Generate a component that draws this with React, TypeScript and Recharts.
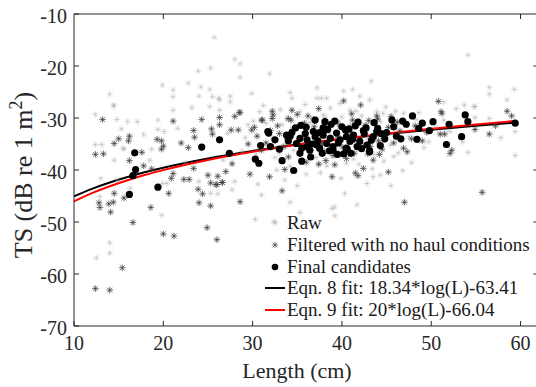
import { ComposedChart, Scatter, Line, XAxis, YAxis, Legend } from "recharts";

type Pt = [number, number];

const RAW: Pt[] = [
  [25.7, -14.5], [28.0, -18.7], [28.6, -19.6], [28.6, -22.2], [23.9, -21.0], [25.3, -20.4], [31.9, -21.5],
  [14.0, -25.4], [14.4, -27.7], [19.9, -23.7], [22.8, -23.3], [25.2, -24.5], [12.4, -29.3], [21.1, -24.6],
  [21.1, -25.9], [21.1, -28.5], [24.2, -24.0], [24.0, -25.8], [25.2, -27.8], [25.5, -25.9], [26.2, -26.2],
  [26.3, -28.5], [14.5, -27.5], [14.8, -30.3], [15.3, -32.1], [14.5, -38.1], [15.5, -35.8], [19.4, -30.4],
  [19.4, -32.2], [20.1, -32.6], [13.1, -35.1], [12.4, -35.1], [15.6, -36.0], [18.7, -36.0], [18.5, -38.1],
  [13.0, -41.6], [14.8, -41.9], [16.0, -30.7], [17.1, -30.7],
  [54.1, -17.9], [56.5, -24.1], [56.5, -25.4], [59.3, -24.5], [58.5, -26.5], [43.3, -22.9], [37.2, -24.2],
  [40.2, -24.8], [41.2, -24.5], [42.0, -25.8], [59.4, -32.6], [59.4, -37.2], [54.8, -27.8], [54.1, -36.6],
  [43.4, -39.8], [44.3, -41.0],
  [12.5, -56.9], [14.0, -54.0], [14.0, -56.0], [19.8, -48.7], [26.1, -44.6], [30.3, -49.5], [32.4, -49.9],
  [34.2, -46.2], [40.3, -44.5], [41.7, -46.7], [39.2, -47.1], [35.3, -48.2], [30.6, -42.7], [27.7, -43.8],
  [12.9, -45.1], [16.3, -43.5], [19.9, -42.6], [20.4, -42.6], [24.0, -42.2], [25.3, -44.5],
  [29.9, -25.3], [27.5, -25.8], [27.5, -26.9], [34.2, -25.1], [34.4, -26.2], [37.2, -26.2], [37.7, -26.2],
  [38.3, -26.2], [43.1, -26.5], [40.9, -28.5], [38.7, -28.1], [35.3, -28.8], [30.8, -28.8], [26.3, -26.5],
  [29.5, -31.3], [33.3, -31.3],
  [43.9, -28.8], [44.6, -29.1], [46.0, -28.7], [46.9, -29.1], [48.6, -29.0], [51.4, -26.9], [51.4, -30.4],
  [53.7, -27.5], [54.9, -27.8], [54.9, -29.9], [56.5, -30.1],
  [49.7, -34.6], [52.1, -32.6], [53.5, -34.6], [45.8, -37.4], [45.4, -35.2],
  [28.0, -42.2], [33.6, -41.9], [37.5, -38.7], [38.3, -39.2], [40.5, -38.7], [43.5, -41.3], [42.8, -42.6],
  [38.9, -47.4], [39.2, -48.8], [31.0, -44.8], [26.7, -38.1], [32.7, -40.0],
  [31.5, -31.0], [32.2, -33.8], [33.8, -30.2], [34.6, -36.2], [35.7, -33.2], [36.4, -30.9], [37.1, -37.6],
  [37.9, -29.4], [38.6, -33.1], [39.3, -35.9], [40.0, -29.8], [40.7, -34.0], [41.3, -37.9], [42.2, -29.6],
  [42.9, -33.9], [43.6, -37.0], [44.3, -30.7], [45.0, -33.4], [46.3, -36.7], [47.5, -33.6], [48.3, -30.3],
  [49.2, -35.7], [50.5, -31.8], [29.2, -33.8], [30.1, -30.6], [28.8, -36.4], [27.2, -33.0], [36.0, -40.8],
  [39.9, -41.6], [35.0, -43.0], [22.4, -38.6], [21.6, -32.0], [17.8, -33.2], [23.2, -28.0], [52.8, -28.2],
  [57.8, -33.8], [47.8, -38.6], [45.5, -43.0], [33.0, -36.8], [41.0, -31.2], [36.8, -34.8],
  [31.2, -27.6], [33.1, -28.4], [35.9, -27.4], [38.1, -29.9], [39.8, -27.2], [41.6, -28.7], [44.9, -27.9],
  [30.4, -36.9], [32.5, -37.6], [34.2, -39.3], [37.6, -40.5], [41.9, -38.9], [44.7, -38.3], [46.8, -40.1],
];

const FILTERED: Pt[] = [
  [12.4, -62.8], [14.0, -63.1], [15.4, -58.8], [16.6, -50.1], [20.0, -52.3], [21.2, -52.7], [24.9, -51.1],
  [26.0, -53.4], [18.6, -47.2], [12.8, -46.3], [12.9, -47.2], [13.9, -46.5], [14.1, -48.1], [14.4, -46.2],
  [14.5, -44.5], [15.6, -45.4], [20.6, -44.5], [24.0, -46.3], [25.3, -46.9], [24.4, -44.6], [25.3, -42.5],
  [25.9, -42.8], [26.6, -42.4], [23.9, -43.7],
  [13.2, -30.3], [12.4, -37.0], [13.3, -36.9], [14.5, -34.9], [15.0, -34.0], [16.1, -34.4], [16.2, -33.5],
  [16.2, -38.2], [17.6, -36.6], [17.8, -39.2], [18.7, -39.8], [19.3, -34.1], [19.8, -34.4], [20.0, -35.4],
  [19.8, -36.0], [21.1, -30.6], [22.0, -34.8], [22.8, -35.7], [23.4, -32.4], [23.5, -33.7], [24.3, -30.3],
  [25.4, -32.1], [25.5, -33.1], [26.3, -29.9], [26.3, -31.3], [21.1, -40.7], [20.9, -41.6], [22.3, -41.8],
  [22.9, -41.8], [25.0, -41.0], [26.1, -41.2], [26.0, -42.8], [23.4, -39.7],
  [28.0, -29.7], [28.6, -28.9], [31.0, -30.4], [32.2, -30.1], [32.3, -29.4], [34.0, -30.1],
  [40.2, -26.7], [42.1, -27.5], [37.4, -28.2], [34.4, -28.5], [32.2, -28.7], [28.5, -29.0], [31.1, -30.4],
  [34.3, -30.4], [36.2, -29.6], [41.2, -30.4], [43.0, -30.5], [43.9, -29.6], [27.6, -32.3], [28.4, -32.3],
  [29.9, -32.3],
  [27.7, -38.8], [29.7, -40.8], [31.9, -41.3], [27.0, -40.3], [26.6, -42.4], [33.3, -44.0], [28.6, -46.1],
  [38.9, -41.3], [41.5, -40.6], [41.8, -41.1], [42.4, -39.7], [39.2, -39.0], [33.6, -39.9],
  [45.2, -40.4], [47.0, -46.2], [55.7, -44.3], [56.5, -33.1], [52.1, -36.8], [52.3, -36.2], [51.0, -33.1],
  [51.5, -33.1], [46.9, -35.8], [44.2, -37.0], [49.0, -34.4], [54.9, -32.2], [57.2, -31.5],
  [50.8, -26.8], [51.1, -28.8], [51.2, -29.1], [58.5, -28.7], [59.0, -29.6],
  [30.5, -33.5], [31.5, -34.8], [32.8, -31.5], [33.5, -35.5], [34.5, -32.2], [35.2, -34.5], [35.8, -31.0],
  [36.5, -36.2], [37.2, -33.0], [37.8, -35.0], [38.5, -31.8], [39.0, -37.2], [39.6, -33.8], [40.1, -35.6],
  [40.8, -32.6], [41.4, -36.8], [42.0, -34.2], [42.6, -31.4], [43.2, -35.5], [43.8, -33.2], [44.5, -36.0],
  [45.2, -31.8], [45.8, -34.8], [46.5, -32.5], [47.3, -36.5], [48.2, -31.5], [49.5, -32.8], [36.0, -38.5],
  [38.2, -38.2], [40.5, -37.8], [34.0, -37.5], [31.0, -36.2], [29.5, -35.0], [33.0, -33.0], [36.8, -30.2],
  [39.5, -30.8], [44.0, -30.2], [46.2, -30.8],
  [32.0, -32.4], [33.9, -34.1], [35.0, -29.3], [36.9, -31.7], [38.0, -36.4], [39.8, -31.6], [41.1, -29.2],
  [42.9, -36.9], [44.1, -34.4], [45.5, -29.7], [47.8, -34.0], [30.2, -31.8], [37.4, -38.9], [43.5, -38.1],
];

const FINAL: Pt[] = [
  [16.2, -44.7], [16.6, -41.1], [16.9, -39.9], [16.8, -36.7], [19.4, -43.3], [24.3, -35.6], [26.3, -34.2],
  [27.4, -36.8], [30.3, -37.9], [30.7, -38.7], [30.9, -35.3], [31.7, -32.6], [31.8, -32.9], [32.5, -34.2],
  [33.3, -38.2], [34.6, -40.1], [35.5, -38.3], [35.3, -36.8], [34.2, -33.5], [35.4, -31.4],
  [37.0, -30.4], [38.1, -30.7], [37.9, -31.9], [38.4, -32.2], [41.5, -31.5], [44.0, -32.0], [40.4, -32.3],
  [40.8, -32.1], [42.4, -32.4], [39.0, -36.2], [40.6, -36.0],
  [45.6, -30.4], [46.8, -30.6], [47.9, -29.6], [50.2, -30.7], [53.8, -29.4], [54.1, -30.7], [59.4, -31.0],
  [45.8, -31.7], [48.6, -32.0], [48.4, -34.1], [51.7, -35.1], [53.4, -33.6], [49.8, -32.4], [46.6, -34.0],
  [46.1, -33.5], [44.3, -35.3], [43.1, -36.5],
  [33.8, -33.3], [34.4, -32.8], [35.3, -33.9], [36.1, -34.2], [37.0, -33.6], [37.2, -35.2], [37.5, -35.8],
  [38.3, -34.9], [39.0, -35.5], [39.8, -34.2], [40.5, -33.6], [41.3, -33.3], [42.0, -34.5], [42.8, -35.2],
  [43.5, -33.6], [43.9, -32.6], [39.4, -32.9], [40.5, -35.8], [41.7, -35.5], [43.1, -36.3], [35.5, -35.8],
  [36.4, -36.2], [34.9, -34.9], [36.8, -32.6], [37.9, -33.3], [38.7, -33.9], [40.9, -34.5], [37.5, -32.8],
  [36.1, -35.5], [38.8, -31.2], [39.5, -37.0], [41.0, -36.8], [42.5, -33.0], [36.5, -37.5], [44.8, -34.0],
  [45.0, -32.8], [47.2, -31.2], [49.0, -31.0], [52.0, -31.2], [37.8, -36.8], [33.0, -36.0], [32.0, -35.5],
  [41.8, -30.8], [43.6, -30.9], [39.2, -30.6], [36.0, -31.8], [34.8, -31.9],
  [35.9, -33.0], [37.3, -34.4], [38.6, -36.3], [39.6, -34.8], [40.2, -36.9], [41.2, -34.1], [42.2, -35.9],
  [43.3, -34.3], [44.4, -33.0], [38.0, -32.3], [40.0, -31.7], [36.7, -35.0], [34.0, -34.4], [42.7, -31.9],
];

// fit curves, values of the two equations from the legend
const FIT_L = [10, 12, 14, 16, 18, 20, 25, 30, 35, 40, 45, 50, 55, 59.5];
const FIT_EQN8 = [-45.07, -43.62, -42.39, -41.33, -40.39, -39.55, -37.77, -36.32, -35.09, -34.03, -33.09, -32.25, -31.49, -30.87];
const FIT_EQN9 = [-46.04, -44.46, -43.12, -41.96, -40.93, -40.02, -38.08, -36.5, -35.16, -34.0, -32.98, -32.06, -31.23, -30.55];

const X_TICKS = [10, 20, 30, 40, 50, 60];
const Y_TICKS = [-70, -60, -50, -40, -30, -20, -10];
const LEGEND_LABELS = [
  "Raw",
  "Filtered with no haul conditions",
  "Final candidates",
  "Eqn. 8 fit: 18.34*log(L)-63.41",
  "Eqn. 9 fit: 20*log(L)-66.04",
];

const INK = "#262626";
const FONT = "'Liberation Serif', 'Times New Roman', serif";
const RAW_COLOR = "rgba(150,150,150,0.3)";
const FILT_COLOR = "rgba(50,50,50,0.6)";

const toPts = (a: Pt[]) => a.map(([x, y]) => ({ x, y }));
const fit = (vals: number[]) => FIT_L.map((x, i) => ({ x, y: vals[i] }));

function Star({ cx, cy, color }: { cx: number; cy: number; color: string }) {
  const r = 3.3;
  const d = 2.4;
  return (
    <g stroke={color} strokeWidth={1}>
      <line x1={cx - r} y1={cy} x2={cx + r} y2={cy} />
      <line x1={cx} y1={cy - r} x2={cx} y2={cy + r} />
      <line x1={cx - d} y1={cy - d} x2={cx + d} y2={cy + d} />
      <line x1={cx - d} y1={cy + d} x2={cx + d} y2={cy - d} />
    </g>
  );
}

const rawShape = (p: any) => <Star cx={p.cx} cy={p.cy} color={RAW_COLOR} />;
const filtShape = (p: any) => (
  <g>
    <Star cx={p.cx} cy={p.cy} color={RAW_COLOR} />
    <Star cx={p.cx} cy={p.cy} color={FILT_COLOR} />
  </g>
);
const dotShape = (p: any) => <circle cx={p.cx} cy={p.cy} r={3.6} fill="#000" />;

function BottomTick({ x, y, payload }: any) {
  return (
    <g>
      <line x1={x} x2={x} y1={y - 10} y2={y - 15} stroke={INK} />
      <text x={x} y={y} dy="0.71em" textAnchor="middle" fill={INK} fontSize={20} fontFamily={FONT}>
        {payload.value}
      </text>
    </g>
  );
}

function LeftTick({ x, y, payload }: any) {
  return (
    <g>
      <line x1={x + 7} x2={x + 12} y1={y} y2={y} stroke={INK} />
      <text x={x} y={y} dy="0.45em" textAnchor="end" fill={INK} fontSize={20} fontFamily={FONT}>
        {payload.value}
      </text>
    </g>
  );
}

function TopTick({ x, y, payload }: any) {
  if (payload.value === 10) return <g />;
  return <line x1={x} x2={x} y1={y} y2={y + 5} stroke={INK} />;
}

function RightTick({ x, y, payload }: any) {
  if (payload.value === -70 || payload.value === -10) return <g />;
  return <line x1={x} x2={x - 5} y1={y} y2={y} stroke={INK} />;
}

function LegendBox() {
  const icons = [
    <Star cx={11} cy={11} color={RAW_COLOR} />,
    <Star cx={11} cy={11} color={FILT_COLOR} />,
    <circle cx={11} cy={11} r={3.3} fill="#000" />,
    <line x1={1} x2={21} y1={11} y2={11} stroke="#000" strokeWidth={2} />,
    <line x1={1} x2={21} y1={11} y2={11} stroke="#ff0000" strokeWidth={2} />,
  ];
  return (
    <div style={{ fontFamily: FONT, fontSize: 19, color: "#1a1a1a" }}>
      {LEGEND_LABELS.map((label, i) => (
        <div key={label} style={{ display: "flex", alignItems: "center", height: 21.8, whiteSpace: "nowrap" }}>
          <svg width={22} height={22}>{icons[i]}</svg>
          <span style={{ marginLeft: 1 }}>{label}</span>
        </div>
      ))}
    </div>
  );
}

export default function App() {
  return (
    <div style={{ position: "absolute", left: 0, top: 0, width: 536, height: 387, overflow: "hidden", background: "#fff" }}>
      <ComposedChart width={540} height={387} margin={{ top: 13, right: 0.6, bottom: 0, left: 30 }}>
        <XAxis
          dataKey="x"
          type="number"
          domain={[10, 62]}
          ticks={X_TICKS}
          allowDataOverflow
          height={61}
          tickSize={0}
          tickMargin={10}
          tickLine={false}
          tick={<BottomTick />}
          axisLine={{ stroke: INK }}
          label={{
            content: () => (
              <text x={297} y={378} textAnchor="middle" fill={INK} fontSize={22} fontFamily={FONT}>
                Length (cm)
              </text>
            ),
          }}
        />
        <XAxis
          xAxisId="top"
          orientation="top"
          dataKey="x"
          type="number"
          domain={[10, 62]}
          ticks={X_TICKS}
          allowDataOverflow
          height={1}
          tickSize={0}
          tickMargin={0}
          tickLine={false}
          tick={<TopTick />}
          axisLine={{ stroke: INK }}
        />
        <YAxis
          dataKey="y"
          type="number"
          domain={[-70, -10]}
          ticks={Y_TICKS}
          allowDataOverflow
          width={44}
          tickSize={0}
          tickMargin={7}
          tickLine={false}
          tick={<LeftTick />}
          axisLine={{ stroke: INK }}
          label={{
            content: () => (
              <text transform="translate(32,175) rotate(-90)" textAnchor="middle" fill={INK} fontSize={26} fontFamily={FONT}>
                TS (dB re 1 m
                <tspan dy={-10} fontSize={18}>2</tspan>
                <tspan dy={10}>)</tspan>
              </text>
            ),
          }}
        />
        <YAxis
          yAxisId="right"
          orientation="right"
          dataKey="y"
          type="number"
          domain={[-70, -10]}
          ticks={Y_TICKS}
          allowDataOverflow
          width={1}
          tickSize={0}
          tickMargin={0}
          tickLine={false}
          tick={<RightTick />}
          axisLine={{ stroke: INK }}
        />
        <Legend
          layout="vertical"
          align="center"
          verticalAlign="middle"
          content={() => <LegendBox />}
          wrapperStyle={{ left: 264, top: 212, width: 272 }}
        />
        <Scatter name="Raw" data={toPts(RAW)} dataKey="y" shape={rawShape} isAnimationActive={false} />
        <Scatter name="Filtered" data={toPts(FILTERED)} dataKey="y" shape={filtShape} isAnimationActive={false} />
        <Scatter name="Final" data={toPts(FINAL)} dataKey="y" shape={dotShape} isAnimationActive={false} />
        <Line
          data={fit(FIT_EQN8)}
          dataKey="y"
          type="monotone"
          stroke="#000"
          strokeWidth={2}
          dot={false}
          isAnimationActive={false}
        />
        <Line
          data={fit(FIT_EQN9)}
          dataKey="y"
          type="monotone"
          stroke="#ff0000"
          strokeWidth={2}
          dot={false}
          isAnimationActive={false}
        />
      </ComposedChart>
    </div>
  );
}
